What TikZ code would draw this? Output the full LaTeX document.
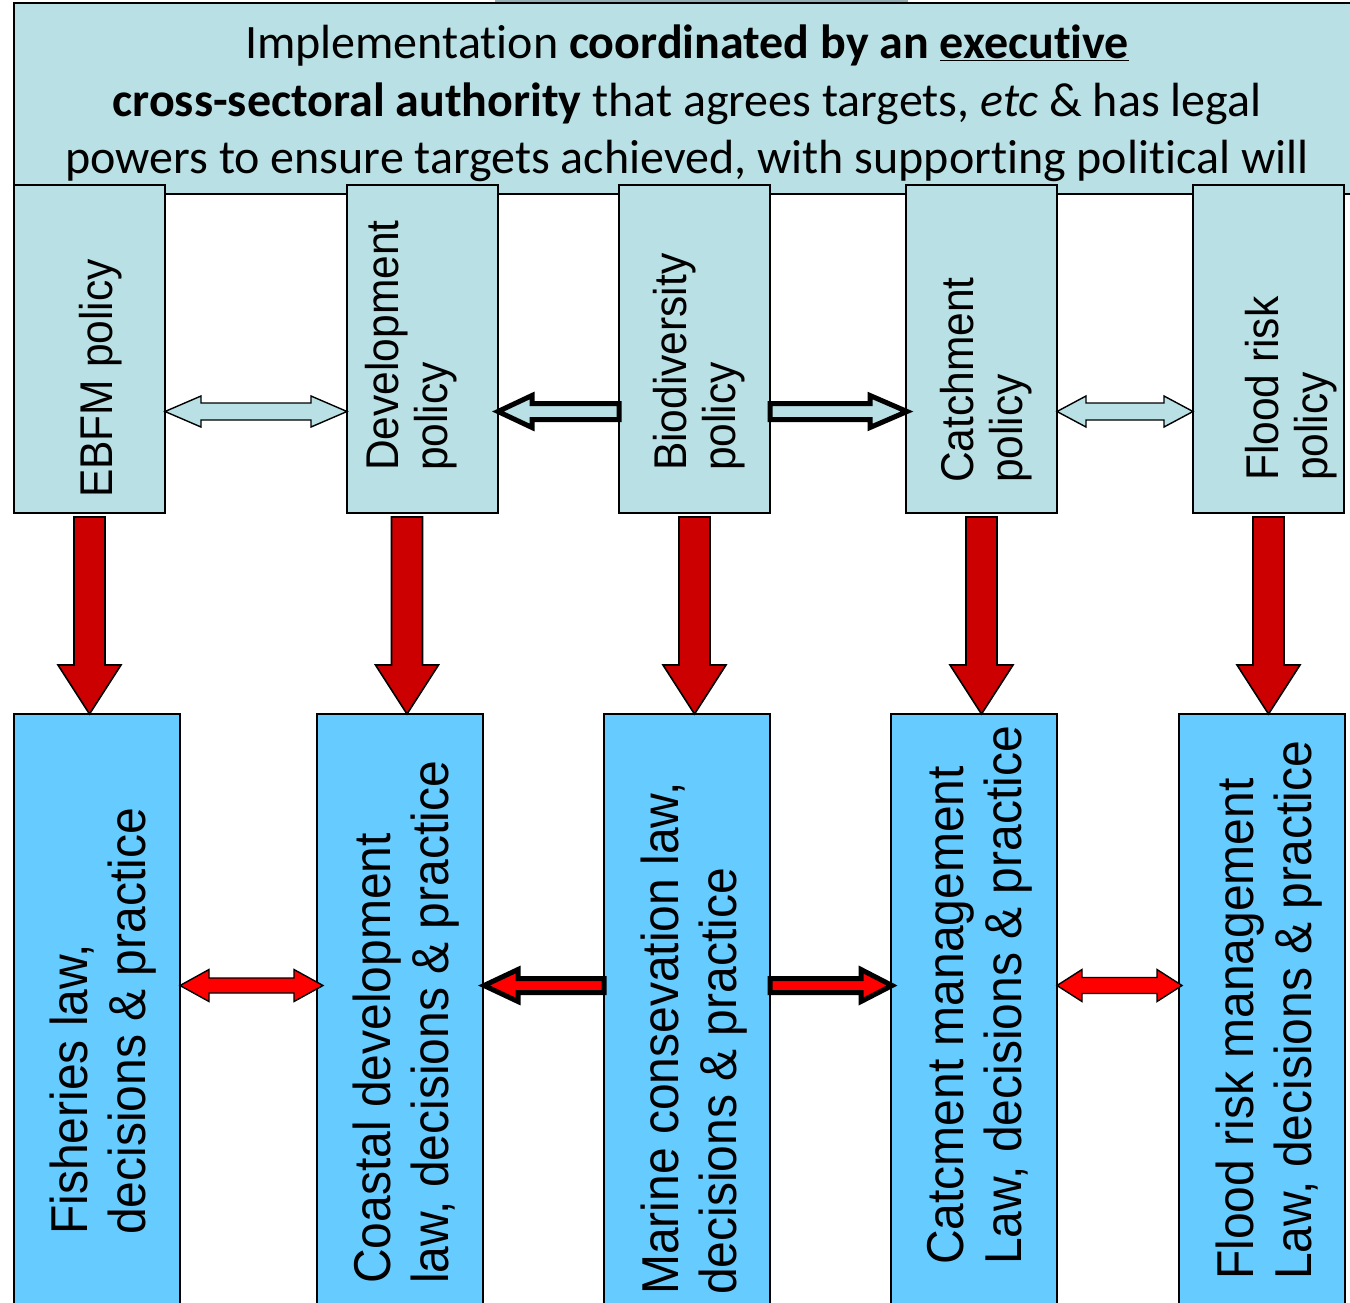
\documentclass[tikz,border=0pt]{standalone}
\usepackage{fontspec}
\setmainfont[Ligatures=NoCommon]{Carlito}
\newfontfamily\arialf{Liberation Sans}
\usetikzlibrary{calc}
\definecolor{polblue}{RGB}{185,224,228}
\definecolor{lawblue}{RGB}{102,204,255}
\definecolor{dred}{RGB}{204,0,0}
\definecolor{bred}{RGB}{255,0,0}
\definecolor{stripgray}{RGB}{150,175,178}

% single block arrow: style, shaft start, tip, shaft half, head half, head length
\newcommand\SArrow[6]{\path[#1] let \p1=(#2), \p2=(#3), \n1={ifthenelse(\x2>\x1,1,-1)} in
 (\x1,{\y1+#4pt}) -- ({\x2-(\n1)*#6pt},{\y1+#4pt}) -- ({\x2-(\n1)*#6pt},{\y1+#5pt}) -- (\x2,\y1)
 -- ({\x2-(\n1)*#6pt},{\y1-#5pt}) -- ({\x2-(\n1)*#6pt},{\y1-#4pt}) -- (\x1,{\y1-#4pt}) -- cycle;}
% double block arrow
\newcommand\DArrow[6]{\path[#1] let \p1=(#2), \p2=(#3), \n1={ifthenelse(\x2>\x1,1,-1)} in
 (\x1,\y1) -- ({\x1+(\n1)*#6pt},{\y1+#5pt}) -- ({\x1+(\n1)*#6pt},{\y1+#4pt}) -- ({\x2-(\n1)*#6pt},{\y1+#4pt})
 -- ({\x2-(\n1)*#6pt},{\y1+#5pt}) -- (\x2,\y1) -- ({\x2-(\n1)*#6pt},{\y1-#5pt}) -- ({\x2-(\n1)*#6pt},{\y1-#4pt})
 -- ({\x1+(\n1)*#6pt},{\y1-#4pt}) -- ({\x1+(\n1)*#6pt},{\y1-#5pt}) -- cycle;}
% vertical down block arrow
\newcommand\VArrow[6]{\path[#1] let \p1=(#2), \p2=(#3) in
 ({\x1-#4pt},\y1) -- ({\x1-#4pt},{\y2+#6pt}) -- ({\x1-#5pt},{\y2+#6pt}) -- (\x1,\y2)
 -- ({\x1+#5pt},{\y2+#6pt}) -- ({\x1+#4pt},{\y2+#6pt}) -- ({\x1+#4pt},\y1) -- cycle;}

\begin{document}
\begin{tikzpicture}[x=1pt,y=-1pt,
  topbox/.style={draw=black, line width=1.8pt, fill=polblue, anchor=north west, inner sep=0, outer sep=0},
  polbox/.style={draw=black, line width=1.8pt, fill=polblue, minimum width=151pt, minimum height=328pt, anchor=north west, inner sep=0, outer sep=0},
  lawbox/.style={draw=black, line width=1.8pt, fill=lawblue, minimum width=166pt, minimum height=620pt, anchor=north west, inner sep=0, outer sep=0},
  toptext/.style={font=\fontsize{48}{57.5}\selectfont, anchor=base, inner sep=0},
  poltext/.style={font=\arialf\fontsize{42.5}{45.8}\selectfont, align=left, rotate=90, yscale=1.08, anchor=north west, inner sep=0},
  lawtext/.style={font=\arialf\fontsize{48}{53.7}\selectfont, align=left, rotate=90, yscale=1.08, anchor=north west, inner sep=0},
  thinpol/.style={fill=polblue, draw=black, line width=1.4pt},
  thickpol/.style={fill=polblue, draw=black, line width=5pt, miter limit=10},
  thinred/.style={fill=bred, draw=black, line width=1.4pt},
  thickred/.style={fill=bred, draw=black, line width=5pt, miter limit=10},
  downarr/.style={fill=dred, draw=black, line width=1.6pt}]
\useasboundingbox (0,0) rectangle (1350,1302);
\clip (0,0) rectangle (1350,1302);
\fill[white] (0,0) rectangle (1350,1302);
\fill[stripgray] (495,0) rectangle (908,3);

% top authority box
\node[topbox, minimum width=1346pt, minimum height=191pt] (auth) at (14,3) {};
\node[toptext] (t1) at (687,58) {Implementation \textbf{coordinated by an \underline{executive}}};
\node[toptext] (t2) at (687,116) {\textbf{cross-sectoral authority} that agrees targets, \textit{etc} \& has legal};
\node[toptext] (t3) at (687,173) {powers to ensure targets achieved, with supporting political will};

% policy boxes
\node[polbox] (ebfm) at (14,185) {};
\node[polbox] (dev) at (347,185) {};
\node[polbox] (bio) at (619,185) {};
\node[polbox] (catch) at (906,185) {};
\node[polbox] (flood) at (1193,185) {};
\node[poltext] (ebfmT) at (79,498) {EBFM policy};
\node[poltext] (devT) at (365,471) {Development\\policy};
\node[poltext] (bioT) at (653,471) {Biodiversity\\policy};
\node[poltext] (catchT) at (940,483) {Catchment\\policy};
\node[poltext] (floodT) at (1245,481) {Flood risk\\policy};

% law boxes
\node[lawbox] (fish) at (14,714) {};
\node[lawbox] (coast) at (317,714) {};
\node[lawbox] (marine) at (604,714) {};
\node[lawbox] (catchm) at (891,714) {};
\node[lawbox] (floodm) at (1179,714) {};
\node[lawtext] (fishT) at (50,1235) {Fisheries law,\\decisions \& practice};
\node[lawtext] (coastT) at (353,1284) {Coastal development\\law, decisions \& practice};
\node[lawtext] (marineT) at (641,1295) {Marine consevation law,\\decisions \& practice};
\node[lawtext] (catchmT) at (927,1265) {Catcment management\\Law, decisions \& practice};
\node[lawtext] (floodmT) at (1216,1280) {Flood risk management\\Law, decisions \& practice};

\coordinate (rowA) at (0,411.5);
\coordinate (rowB) at (0,985.5);

% policy row arrows
\DArrow{thinpol}{ebfm.east |- rowA}{dev.west |- rowA}{8.5}{15.5}{36}
\SArrow{thickpol}{bio.west |- rowA}{dev.east |- rowA}{8}{16}{34}
\SArrow{thickpol}{bio.east |- rowA}{$(catch.west |- rowA)+(1,0)$}{8}{16}{37}
\DArrow{thinpol}{catch.east |- rowA}{flood.west |- rowA}{8.5}{15.5}{29}

% down arrows
\VArrow{downarr}{$(ebfm.south)+(0,4)$}{fish.north}{15.5}{31.5}{49}
\VArrow{downarr}{$(dev.south)+(-15.5,4)$}{coast.north}{15.5}{31.5}{49}
\VArrow{downarr}{$(bio.south)+(0,4)$}{marine.north}{15.5}{31.5}{49}
\VArrow{downarr}{$(catch.south)+(0,4)$}{catchm.north}{15.5}{31.5}{49}
\VArrow{downarr}{$(flood.south)+(0,4)$}{floodm.north}{15.5}{31.5}{49}

% law row arrows
\DArrow{thinred}{fish.east |- rowB}{$(coast.west |- rowB)+(6,0)$}{7.5}{16}{29}
\SArrow{thickred}{marine.west |- rowB}{$(coast.east |- rowB)+(1,0)$}{7}{16}{34}
\SArrow{thickred}{marine.east |- rowB}{$(catchm.west |- rowB)+(1,0)$}{7}{16}{31}
\DArrow{thinred}{catchm.east |- rowB}{$(floodm.west |- rowB)+(3,0)$}{8}{16}{25}
\end{tikzpicture}
\end{document}
